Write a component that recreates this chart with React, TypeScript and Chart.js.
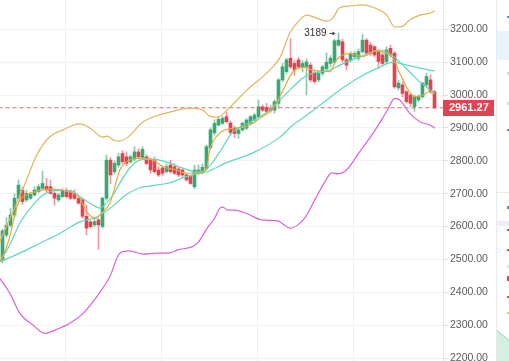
import React, { useEffect, useRef } from "react";
import { Chart, registerables } from "chart.js";

Chart.register(...registerables);

// ---- candle data (one entry per trading period) ----
const opens = [
  2497, 2574, 2604, 2635, 2686, 2711, 2681, 2686, 2696, 2706,
  2716, 2722, 2721, 2701, 2681, 2691, 2706, 2706, 2701, 2686,
  2681, 2631, 2614, 2605, 2620, 2600, 2686, 2802, 2767, 2787,
  2822, 2812, 2797, 2805, 2827, 2810, 2812, 2802, 2802, 2772,
  2778, 2767, 2787, 2782, 2775, 2772, 2757, 2752, 2721, 2762,
  2765, 2777, 2840, 2885, 2909, 2914, 2934, 2915, 2899, 2883,
  2894, 2899, 2914, 2924, 2934, 2964, 2962, 2960, 2954, 2975,
  3046, 3071, 3112, 3096, 3107, 3086, 3086, 3091, 3066, 3046,
  3066, 3080, 3096, 3100, 3152, 3162, 3107, 3107, 3117, 3112,
  3132, 3167, 3152, 3147, 3132, 3122, 3102, 3142, 3127, 3022,
  3031, 3010, 3000, 2965, 2985, 2995, 3031, 3046, 3010,
];
const highs = [
  2592, 2627, 2655, 2700, 2742, 2720, 2710, 2705, 2721, 2728,
  2769, 2747, 2742, 2706, 2700, 2715, 2717, 2712, 2712, 2690,
  2686, 2666, 2620, 2625, 2625, 2690, 2818, 2810, 2800, 2822,
  2831, 2827, 2818, 2843, 2837, 2843, 2818, 2808, 2812, 2782,
  2785, 2790, 2802, 2790, 2782, 2778, 2762, 2756, 2787, 2787,
  2790, 2848, 2900, 2925, 2932, 2935, 2948, 2920, 2905, 2900,
  2918, 2928, 2938, 2945, 2985, 2970, 2975, 2968, 2985, 3050,
  3096, 3112, 3172, 3105, 3115, 3105, 3110, 3098, 3072, 3070,
  3090, 3128, 3120, 3170, 3189, 3170, 3112, 3132, 3132, 3140,
  3185, 3172, 3160, 3150, 3137, 3128, 3147, 3152, 3132, 3045,
  3040, 3015, 3005, 3000, 3000, 3040, 3066, 3062, 3015,
];
const lows = [
  2490, 2568, 2598, 2630, 2680, 2668, 2675, 2682, 2692, 2702,
  2712, 2705, 2698, 2665, 2675, 2688, 2686, 2682, 2681, 2668,
  2625, 2574, 2596, 2600, 2530, 2595, 2680, 2731, 2760, 2780,
  2790, 2785, 2792, 2800, 2805, 2805, 2787, 2762, 2762, 2752,
  2755, 2762, 2762, 2758, 2752, 2750, 2738, 2728, 2715, 2758,
  2760, 2772, 2835, 2878, 2905, 2910, 2915, 2880, 2870, 2868,
  2890, 2895, 2910, 2920, 2930, 2950, 2945, 2948, 2945, 2960,
  3040, 3065, 3080, 3060, 3080, 3070, 3000, 3040, 3035, 3040,
  3060, 3075, 3085, 3095, 3148, 3100, 3076, 3100, 3110, 3105,
  3127, 3120, 3120, 3115, 3081, 3090, 3095, 3115, 3020, 3015,
  2995, 2975, 2965, 2950, 2980, 2990, 3025, 3005, 2958,
];
const closes = [
  2587, 2604, 2635, 2686, 2726, 2676, 2701, 2698, 2711, 2721,
  2731, 2711, 2701, 2686, 2696, 2708, 2691, 2686, 2686, 2671,
  2631, 2595, 2600, 2615, 2605, 2686, 2802, 2757, 2792, 2812,
  2797, 2792, 2812, 2827, 2812, 2835, 2792, 2772, 2767, 2757,
  2762, 2782, 2767, 2762, 2757, 2757, 2742, 2731, 2772, 2772,
  2780, 2843, 2894, 2914, 2926, 2929, 2919, 2886, 2883, 2894,
  2914, 2924, 2934, 2939, 2964, 2954, 2950, 2952, 2980, 3046,
  3086, 3107, 3086, 3076, 3086, 3096, 3101, 3046, 3041, 3066,
  3086, 3100, 3112, 3165, 3167, 3107, 3091, 3127, 3127, 3132,
  3167, 3127, 3127, 3122, 3102, 3096, 3137, 3122, 3025, 3036,
  3005, 2980, 2975, 2995, 2995, 3036, 3056, 3010, 2961.27,
];

const lastPrice = 2961.27;
const peakLabel = "3189";

// ---- axis ticks ----
const yTicks = [2200, 2300, 2400, 2500, 2600, 2700, 2800, 2900, 3000, 3100, 3200];
const xGridIdx = [3.825, 27.825, 51.825, 75.825, 99.825];

// ---- indicator lines, sampled as [period index, price] ----
const upperBand: [number, number][] = [
  [-0.675, 2554], [6.0, 2741], [8.575, 2818], [11.825, 2873], [15.075, 2894],
  [19.325, 2912], [21.825, 2900], [25.075, 2872], [26.075, 2875], [28.075, 2861],
  [29.325, 2860], [31.325, 2872], [35.075, 2918], [37.575, 2933], [41.825, 2948],
  [46.825, 2960], [50.075, 2954], [51.825, 2936], [53.825, 2933], [56.075, 2954],
  [61.075, 3015], [66.825, 3076], [69.325, 3113], [71.825, 3189], [73.825, 3222],
  [76.075, 3243], [78.575, 3234], [81.075, 3225], [82.575, 3234], [84.325, 3266],
  [86.825, 3271], [89.825, 3274], [92.575, 3267], [96.075, 3243], [98.075, 3207],
  [99.825, 3208], [101.825, 3228], [104.325, 3243], [106.825, 3249], [108.075, 3256],
];
const lowerBand: [number, number][] = [
  [-0.675, 2442], [1.825, 2397], [4.325, 2336], [7.65, 2300], [10.575, 2275],
  [13.075, 2285], [16.825, 2306], [20.15, 2336], [23.9, 2392], [26.825, 2447],
  [29.325, 2519], [31.825, 2526], [35.15, 2516], [38.5, 2519], [41.825, 2520],
  [43.825, 2529], [47.325, 2538], [48.825, 2550], [51.325, 2598], [53.075, 2626],
  [54.325, 2656], [55.075, 2659], [56.325, 2650], [58.075, 2650], [61.325, 2638],
  [64.825, 2620], [68.825, 2617], [70.075, 2608], [71.825, 2595], [73.825, 2605],
  [75.575, 2626], [78.075, 2681], [80.575, 2735], [82.325, 2763], [83.825, 2760],
  [86.0, 2772], [89.325, 2828], [92.65, 2884], [96.0, 2949], [98.075, 2990],
  [99.325, 2985], [101.825, 2944], [104.325, 2919], [106.825, 2909], [108.075, 2899],
];
const fastMA: [number, number][] = [
  [-0.675, 2493], [0.575, 2523], [1.825, 2569], [3.075, 2635], [4.15, 2676],
  [5.575, 2694], [7.65, 2704], [11.825, 2714], [16.0, 2708], [19.325, 2686],
  [21.0, 2645], [23.5, 2625], [24.325, 2635], [26.825, 2671], [27.65, 2701],
  [29.325, 2772], [31.825, 2802], [34.325, 2808], [37.65, 2802], [40.15, 2782],
  [43.5, 2772], [46.0, 2762], [48.5, 2762], [51.0, 2777], [51.825, 2833],
  [54.325, 2884], [57.65, 2899], [61.0, 2904], [64.325, 2929], [67.65, 2960],
  [70.15, 3015], [71.825, 3056], [73.5, 3081], [75.15, 3084], [77.65, 3076],
  [81.825, 3071], [83.5, 3107], [86.825, 3127], [90.15, 3117], [93.5, 3135],
  [96.0, 3127], [97.65, 3112], [99.325, 3066], [101.0, 3025], [103.075, 2995],
  [105.15, 3000], [106.825, 3010], [108.075, 3005],
];
const midMA: [number, number][] = [
  [-0.675, 2493], [1.825, 2544], [4.325, 2610], [7.65, 2666], [10.15, 2696],
  [11.825, 2706], [14.325, 2710], [17.65, 2706], [19.325, 2691], [21.825, 2671],
  [24.325, 2656], [26.0, 2672], [27.65, 2696], [29.325, 2732], [31.825, 2778],
  [34.325, 2802], [37.575, 2805], [41.825, 2793], [45.075, 2778], [48.575, 2766],
  [50.825, 2772], [52.575, 2796], [54.325, 2827], [57.575, 2888], [61.075, 2912],
  [66.075, 2948], [69.325, 2985], [72.575, 3024], [75.075, 3052], [77.575, 3067],
  [81.825, 3076], [84.325, 3091], [89.325, 3116], [94.325, 3137], [97.325, 3122],
  [99.325, 3100], [101.825, 3070], [104.325, 3040], [106.325, 3021], [108.075, 3006],
];
const slowMA: [number, number][] = [
  [-0.675, 2493], [4.325, 2519], [9.325, 2549], [14.325, 2579], [19.325, 2614],
  [23.575, 2629], [27.575, 2662], [31.075, 2698], [34.325, 2718], [38.575, 2726],
  [41.825, 2733], [45.075, 2748], [49.325, 2763], [51.075, 2766], [55.575, 2792],
  [62.575, 2824], [69.325, 2872], [72.575, 2909], [75.075, 2930], [81.075, 2985],
  [84.325, 3015], [89.325, 3055], [94.325, 3085], [97.575, 3100], [101.075, 3091],
  [104.325, 3082], [108.075, 3073],
];

const UP = "#3aa872";
const DOWN = "#e2434f";
const UP_WICK = "rgba(58,168,114,0.6)";
const DOWN_WICK = "rgba(226,67,79,0.55)";
const GRID = "#eef2f6";

const toXY = (pts: [number, number][]) => pts.map(([x, y]) => ({ x, y }));

const overlayPlugin = {
  id: "overlay",
  afterDraw(chart: any) {
    const { ctx, chartArea } = chart;
    const xs = chart.scales.x;
    const ys = chart.scales.y;
    ctx.save();
    // peak annotation
    let pi = 0;
    highs.forEach((h, i) => { if (h > highs[pi]) pi = i; });
    const px = xs.getPixelForValue(pi);
    const py = ys.getPixelForValue(highs[pi]);
    ctx.font = "10px 'Liberation Sans', Arial, sans-serif";
    ctx.fillStyle = "#333";
    ctx.textAlign = "right";
    ctx.textBaseline = "middle";
    ctx.fillText(peakLabel, px - 12, py);
    ctx.strokeStyle = "#444";
    ctx.lineWidth = 1;
    ctx.beginPath();
    ctx.moveTo(px - 9, py + 0.5);
    ctx.lineTo(px - 4, py + 0.5);
    ctx.stroke();
    ctx.beginPath();
    ctx.moveTo(px - 3, py + 0.5);
    ctx.lineTo(px - 6, py - 1.5);
    ctx.lineTo(px - 6, py + 2.5);
    ctx.closePath();
    ctx.fillStyle = "#444";
    ctx.fill();

    // last price box
    const ly = ys.getPixelForValue(lastPrice);
    ctx.fillStyle = "#e04352";
    ctx.fillRect(chartArea.right, Math.round(ly) - 8, 51, 16);
    ctx.fillStyle = "#fff";
    ctx.font = "bold 11px 'Liberation Sans', Arial, sans-serif";
    ctx.textAlign = "left";
    ctx.fillText(lastPrice.toFixed(2), chartArea.right + 6, Math.round(ly));

    // right side panel
    const W = chart.width;
    const H = chart.height;
    ctx.fillStyle = "#fff";
    ctx.fillRect(496, 0, W - 496, H);
    ctx.fillStyle = "#e6eaef";
    ctx.fillRect(496, 0, 1, H);
    ctx.fillStyle = "#e9f3fd";
    ctx.fillRect(497, 31, W - 497, 29);
    ctx.fillStyle = "#4a8fe0";
    ctx.fillRect(507, 16, 2, 2);
    ctx.fillRect(507, 129, 2, 2);
    ctx.fillRect(507, 206, 2, 3);
    ctx.fillStyle = "#d6dbe0";
    ctx.fillRect(507, 72, 2, 3);
    ctx.fillRect(507, 102, 2, 3);
    ctx.fillStyle = "#e8ecf0";
    ctx.fillRect(497, 192, W - 497, 1);
    ctx.fillStyle = "#eceff3";
    ctx.fillRect(497, 221, W - 497, 5);
    ctx.fillStyle = "#e2434f";
    ctx.fillRect(507, 229, 2, 2);
    ctx.fillRect(507, 249, 2, 2);
    ctx.fillRect(507, 276, 2, 5);
    ctx.fillRect(507, 296, 2, 2);
    ctx.fillStyle = "#cfeee0";
    ctx.fillRect(507, 265, 2, 3);
    ctx.fillStyle = "#f1c36b";
    ctx.fillRect(507, 312, 2, 2);
    ctx.fillStyle = "#d3f0e2";
    ctx.beginPath();
    ctx.moveTo(497, 330);
    ctx.lineTo(509, 340);
    ctx.lineTo(509, H);
    ctx.lineTo(497, H);
    ctx.closePath();
    ctx.fill();
    ctx.strokeStyle = "#8fd6b4";
    ctx.beginPath();
    ctx.moveTo(497, 330.5);
    ctx.lineTo(509, 340.5);
    ctx.stroke();
    ctx.restore();
  },
};

export default function App() {
  const ref = useRef<HTMLCanvasElement | null>(null);

  useEffect(() => {
    document.body.style.margin = "0";
    const canvas = ref.current;
    if (!canvas) return;
    const idx = closes.map((_, i) => i);
    const isUp = idx.map((i) => closes[i] >= opens[i]);

    const lineDs = (label: string, pts: [number, number][], color: string) => ({
      type: "line" as const,
      label,
      data: toXY(pts),
      borderColor: color,
      backgroundColor: color,
      borderWidth: 1.2,
      pointRadius: 0,
      cubicInterpolationMode: "monotone" as const,
      order: 1,
    });

    const chart = new Chart(canvas, {
      type: "bar",
      data: {
        datasets: [
          lineDs("Upper", upperBand, "#e3b65c"),
          lineDs("Lower", lowerBand, "#d862d8"),
          lineDs("MA fast", fastMA, "#e6a83e"),
          lineDs("MA mid", midMA, "#5fd6be"),
          lineDs("MA slow", slowMA, "#62d8c2"),
          {
            type: "line" as const,
            label: "Last",
            data: [{ x: -1, y: lastPrice }, { x: 112, y: lastPrice }],
            borderColor: "rgba(228,72,84,0.85)",
            borderWidth: 1,
            borderDash: [4, 3],
            pointRadius: 0,
            order: 1,
          },
          {
            type: "bar" as const,
            label: "Body",
            data: idx.map((i) => ({ x: i, y: [opens[i], closes[i]] })) as any,
            backgroundColor: idx.map((i) => (isUp[i] ? UP : DOWN)),
            barThickness: 3,
            minBarLength: 1,
            grouped: false,
            order: 2,
          },
          {
            type: "bar" as const,
            label: "Wick",
            data: idx.map((i) => ({ x: i, y: [lows[i], highs[i]] })) as any,
            backgroundColor: idx.map((i) => (isUp[i] ? UP_WICK : DOWN_WICK)),
            barThickness: 1,
            grouped: false,
            order: 3,
          },
        ],
      },
      options: {
        animation: false,
        responsive: false,
        events: [],
        layout: { padding: 0 },
        plugins: {
          legend: { display: false },
          tooltip: { enabled: false },
        },
        scales: {
          x: {
            type: "linear",
            min: -0.625,
            max: 110.125,
            offset: false,
            ticks: { display: false },
            grid: { color: GRID, drawTicks: false },
            border: { display: false },
            afterBuildTicks: (s: any) => {
              s.ticks = xGridIdx.map((v) => ({ value: v }));
            },
          },
          y: {
            type: "linear",
            position: "right",
            min: 2190.9,
            max: 3289.1,
            ticks: {
              autoSkip: false,
              padding: 2,
              color: "#5a5a5a",
              font: { size: 10.5, family: "'Liberation Sans', Arial, sans-serif" },
              callback: (v: any) => Number(v).toFixed(2),
            },
            grid: { color: GRID, tickLength: 5, tickColor: "#d9dee4" },
            border: { display: true, color: "#e3e8ee" },
            afterBuildTicks: (s: any) => {
              s.ticks = yTicks.map((v) => ({ value: v }));
            },
            afterFit: (s: any) => {
              s.width = 66;
              s.paddingTop = 0;
              s.paddingBottom = 0;
            },
          },
        },
      },
      plugins: [overlayPlugin],
    });
    return () => chart.destroy();
  }, []);

  return (
    <div style={{ width: 509, height: 361, position: "relative", overflow: "hidden" }}>
      <canvas ref={ref} width={509} height={361} style={{ display: "block" }} />
    </div>
  );
}
